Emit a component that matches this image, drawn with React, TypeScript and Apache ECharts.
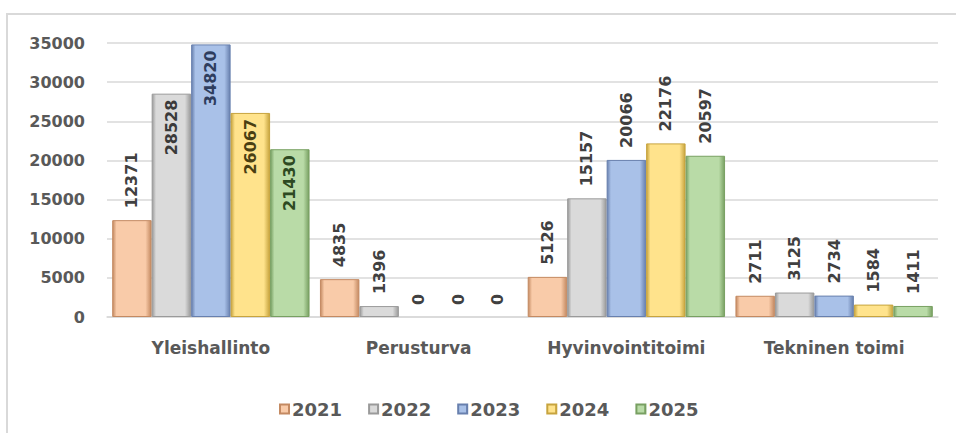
import React, { useEffect, useRef } from "react";
import * as echarts from "echarts";

const categories = ["Yleishallinto", "Perusturva", "Hyvinvointitoimi", "Tekninen toimi"];
const years = ["2021", "2022", "2023", "2024", "2025"];
const values2021 = [12371, 4835, 5126, 2711];
const values2022 = [28528, 1396, 15157, 3125];
const values2023 = [34820, 0, 20066, 2734];
const values2024 = [26067, 0, 22176, 1584];
const values2025 = [21430, 0, 20597, 1411];
const yTicks = { min: 0, max: 35000, interval: 5000 };
// labels that Excel placed inside the bar top: "seriesIndex:categoryIndex"
const insideLabels = ["1:0", "2:0", "3:0", "4:0"];

const allValues = [values2021, values2022, values2023, values2024, values2025];
const baseColors = ["#F9CBA9", "#DADADA", "#A9C1E8", "#FFE38C", "#B9DBA7"];
const edgeColors = ["#C48A62", "#9A9A9A", "#6880AE", "#C7A43E", "#78A062"];
const insideTextColors = ["#404040", "#3A3A3A", "#2E3D5E", "#4A3F12", "#2D4A22"];

const FONT = "'DejaVu Sans', 'Open Sans', sans-serif";

export default function App() {
  const ref = useRef<HTMLDivElement>(null);
  useEffect(() => {
    document.body.style.margin = "0";
    const chart = echarts.init(ref.current!, null, { renderer: "svg" });
    const series = years.map((y, si) => ({
      name: y,
      type: "bar",
      barGap: "0%",
      barCategoryGap: "5%",
      itemStyle: {
        color: new echarts.graphic.LinearGradient(0, 0, 1, 0, [
          { offset: 0, color: edgeColors[si] },
          { offset: 0.1, color: baseColors[si] },
          { offset: 0.85, color: baseColors[si] },
          { offset: 1, color: edgeColors[si] },
        ]),
        borderColor: edgeColors[si],
        borderWidth: 1,
      },
      label: {
        show: true,
        position: "top",
        rotate: 90,
        align: "left",
        verticalAlign: "middle",
        distance: 12,
        fontFamily: FONT,
        fontWeight: "bold",
        fontSize: 16,
        color: "#404040",
      },
      data: allValues[si].map((v, ci) => {
        const item: any = { value: v };
        if (insideLabels.includes(si + ":" + ci)) {
          item.label = {
            position: "insideTop",
            align: "right",
            distance: 6,
            color: insideTextColors[si],
          };
        }
        if (v === 0) item.itemStyle = { color: "rgba(0,0,0,0)", borderWidth: 0 };
        return item;
      }),
    }));
    chart.setOption({
      animation: false,
      backgroundColor: "#ffffff",
      graphic: [
        {
          type: "rect",
          shape: { x: 7, y: 14, width: 980, height: 440 },
          style: { fill: "none", stroke: "#D9D9D9", lineWidth: 2 },
          silent: true,
        },
      ],
      grid: { left: 107, right: 18, top: 43, bottom: 116, containLabel: false },
      legend: {
        top: 395,
        left: 274,
        itemWidth: 9,
        itemHeight: 9,
        itemGap: 26,
        icon: "rect",
        textStyle: { fontFamily: FONT, fontWeight: "bold", fontSize: 18, color: "#595959", padding: [0, 0, 0, -2] },
        data: years,
      },
      xAxis: {
        type: "category",
        data: categories,
        axisLine: { lineStyle: { color: "#D9D9D9", width: 1.5 } },
        axisTick: { show: false },
        axisLabel: {
          margin: 22,
          fontFamily: FONT,
          fontWeight: "bold",
          fontSize: 17,
          color: "#595959",
        },
      },
      yAxis: {
        type: "value",
        min: yTicks.min,
        max: yTicks.max,
        interval: yTicks.interval,
        axisLine: { show: false },
        axisTick: { show: false },
        splitLine: { lineStyle: { color: "#D9D9D9", width: 1.5 } },
        axisLabel: {
          margin: 22,
          formatter: (v: number) => String(v),
          fontFamily: FONT,
          fontWeight: "bold",
          fontSize: 16,
          color: "#595959",
        },
      },
      series,
    });
    return () => chart.dispose();
  }, []);
  return <div ref={ref} style={{ width: 956, height: 433 }} />;
}
